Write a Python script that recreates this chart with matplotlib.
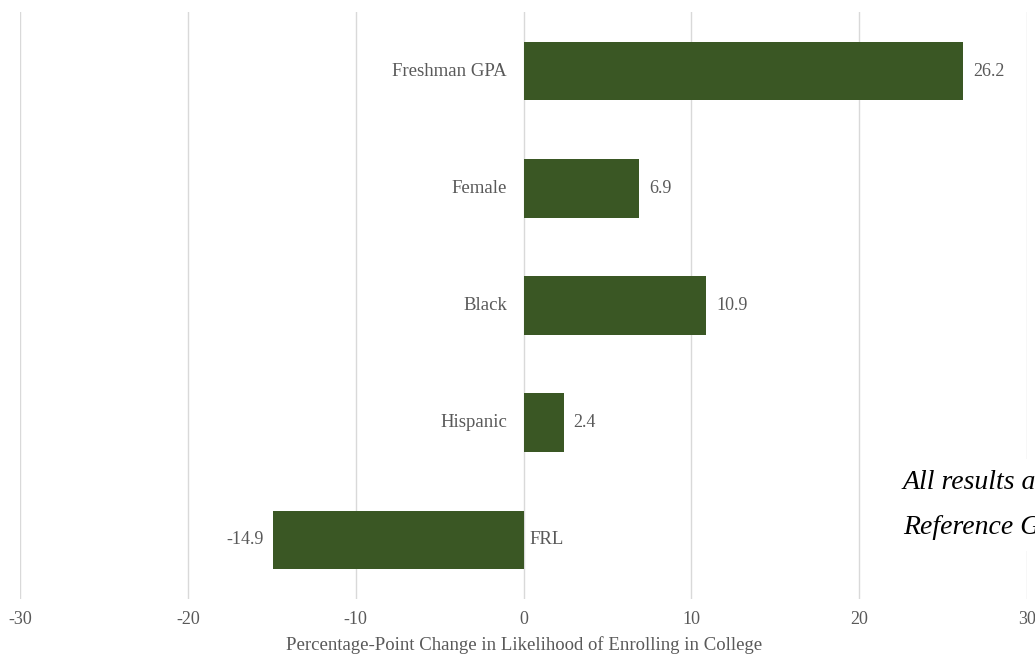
import matplotlib
matplotlib.use('Agg')
import matplotlib.pyplot as plt

categories = ['Freshman GPA', 'Female', 'Black', 'Hispanic', 'FRL']
values = [26.2, 6.9, 10.9, 2.4, -14.9]
xticks = [-30, -20, -10, 0, 10, 20, 30]

bar_color = '#3a5724'
text_color = '#595959'
plt.rcParams['font.family'] = ['Liberation Serif', 'DejaVu Serif']

fig = plt.figure(figsize=(10.35, 6.54), dpi=100)
ax = fig.add_axes([20 / 1035, 1 - 598.6 / 654, 1007 / 1035, 586.2 / 654])

ypos = list(range(len(categories)))
ax.barh(ypos, values, height=0.5, color=bar_color, zorder=3)

ax.set_xlim(-30, 30)
ax.set_ylim(len(categories) - 0.5, -0.5)
ax.set_xticks(xticks)
ax.set_xticklabels([str(t) for t in xticks], fontsize=13, color=text_color)
ax.set_yticks([])
ax.tick_params(axis='x', length=0, pad=9)
ax.grid(axis='x', color='#d9d9d9', linewidth=1, zorder=0)
for s in ax.spines.values():
    s.set_visible(False)

# category names sit beside the zero line, value labels at the bar ends
for y, cat, v in zip(ypos, categories, values):
    if v >= 0:
        ax.annotate(cat, (0, y), xytext=(-12, 0), textcoords='offset points',
                    ha='right', va='center', fontsize=13.5, color=text_color)
        ax.annotate(f'{v:.1f}', (v, y), xytext=(7, 0), textcoords='offset points',
                    ha='left', va='center', fontsize=13, color=text_color)
    else:
        ax.annotate(cat, (0, y), xytext=(4, 0), textcoords='offset points',
                    ha='left', va='center', fontsize=13.5, color=text_color)
        ax.annotate(f'{v:.1f}', (v, y), xytext=(-7, 0), textcoords='offset points',
                    ha='right', va='center', fontsize=13, color=text_color)

fig.text(524 / 1035, 1 - 645 / 654, 'Percentage-Point Change in Likelihood of Enrolling in College',
         ha='center', va='center', fontsize=13.5, color=text_color)

fig.text(903 / 1035, 1 - 505 / 654, 'All results are\nReference Group',
         ha='left', va='center', fontsize=20, style='italic', color='black',
         linespacing=2.05, zorder=5,
         bbox=dict(facecolor='white', edgecolor='none', pad=8))

fig.savefig('out.png', dpi=100)
